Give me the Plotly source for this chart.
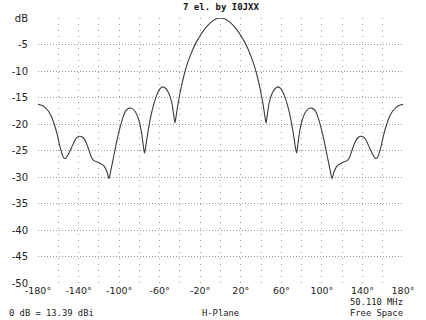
import plotly.graph_objects as go

angles = [-180, -176, -173, -170, -167, -164, -161, -158, -155, -153, -150, -147, -144, -142, -139,
          -136, -133, -130, -127, -124, -121, -118, -115, -112, -110, -108, -105, -102, -99, -96,
          -93, -90, -87, -84, -81, -78, -76, -75, -74, -72, -69, -66, -63, -60, -57, -54, -51, -48,
          -46, -45, -44, -42, -39, -36, -33, -30, -27, -24, -20, -16, -12, -8, -4,
          0,
          4, 8, 12, 16, 20, 24, 27, 30, 33, 36, 39, 42, 44, 45, 46, 48, 51, 54, 57, 60, 63, 66,
          69, 72, 74, 75, 76, 78, 81, 84, 87, 90, 93, 96, 99, 102, 105, 108, 110, 112, 115, 118,
          121, 124, 127, 130, 133, 136, 139, 142, 144, 147, 150, 153, 155, 158, 161, 164, 167,
          170, 173, 176, 180]
gain_db = [-16.3, -16.5, -16.9, -17.5, -18.5, -20.0, -22.0, -24.5, -26.3, -26.5, -25.7, -24.5,
           -23.2, -22.6, -22.3, -22.5, -23.3, -24.8, -26.4, -27.0, -27.2, -27.5, -27.9, -29.0,
           -30.3, -28.6, -25.8, -23.0, -20.6, -18.6, -17.4, -17.0, -17.1, -17.7, -19.0, -21.5,
           -24.3, -25.5, -24.6, -22.0, -18.8, -16.4, -14.6, -13.4, -13.0, -13.3, -14.2, -16.0,
           -18.5, -19.8, -18.8, -16.3, -13.3, -10.8, -8.8, -7.2, -5.8, -4.6, -3.3, -2.2, -1.3,
           -0.6, -0.15,
           0.0,
           -0.15, -0.6, -1.3, -2.2, -3.3, -4.6, -5.8, -7.2, -8.8, -10.8, -13.3, -16.3, -18.8,
           -19.8, -18.5, -16.0, -14.2, -13.3, -13.0, -13.4, -14.6, -16.4, -18.8, -22.0, -24.6,
           -25.5, -24.3, -21.5, -19.0, -17.7, -17.1, -17.0, -17.4, -18.6, -20.6, -23.0, -25.8,
           -28.6, -30.3, -29.0, -27.9, -27.5, -27.2, -27.0, -26.4, -24.8, -23.3, -22.5, -22.3,
           -22.6, -23.2, -24.5, -25.7, -26.5, -26.3, -24.5, -22.0, -20.0, -18.5, -17.5, -16.9,
           -16.5, -16.3]

x_grid = list(range(-180, 181, 20))
x_labels = [f"{v}°" if (v + 180) % 40 == 0 else "" for v in x_grid]
y_ticks = list(range(0, -51, -5))
y_labels = ["dB"] + [str(v) for v in y_ticks[1:]]

title_text = "7 el. by I0JXX"
ref_text = "0 dB = 13.39 dBi"
plane_text = "H-Plane"
freq_text = "50.110 MHz"
env_text = "Free Space"

fig = go.Figure()
fig.add_trace(go.Scatter(x=angles, y=gain_db, mode="lines",
                         line=dict(color="#3a3a3a", width=1.1, shape="spline", smoothing=0.6),
                         hoverinfo="skip", showlegend=False))

L, R, T, B = 34, 14, 16, 37
W, H = 426, 320
pw, ph = W - L - R, H - T - B

def px(X):
    return (X - L) / pw

def py(Y):
    return (H - B - Y) / ph

xtick_font = dict(family="DejaVu Sans, sans-serif", size=9.5, color="#222")
ytick_font = dict(family="DejaVu Sans, sans-serif", size=10, color="#222")
mono_font = dict(family="DejaVu Sans Mono, monospace", size=8.8, color="#222")

fig.update_layout(
    width=W, height=H, autosize=False,
    margin=dict(l=L, r=R, t=T, b=B),
    paper_bgcolor="white", plot_bgcolor="white",
    xaxis=dict(range=[-180, 180], tickvals=x_grid, ticktext=x_labels, showgrid=True,
               gridcolor="#9a9a9a", griddash="1px,5px", gridwidth=1, zeroline=False,
               showline=False, ticks="", tickfont=xtick_font, ticklabelstandoff=0,
               fixedrange=True),
    yaxis=dict(range=[-50, 0], tickvals=y_ticks, ticktext=y_labels, showgrid=True,
               gridcolor="#9a9a9a", griddash="1px,2px", gridwidth=1, zeroline=False,
               showline=False, ticks="", tickfont=ytick_font, ticklabelstandoff=9,
               fixedrange=True),
    annotations=[
        dict(text=f"<b>{title_text}</b>", x=px(224), y=py(5), xref="paper", yref="paper",
             showarrow=False, xanchor="center", yanchor="middle",
             font=dict(family="DejaVu Sans Mono, monospace", size=9, color="#111")),
        dict(text=ref_text, x=px(2), y=py(313.5), xref="paper", yref="paper",
             showarrow=False, xanchor="left", yanchor="middle", font=mono_font),
        dict(text=plane_text, x=px(223), y=py(313.5), xref="paper", yref="paper",
             showarrow=False, xanchor="center", yanchor="middle", font=mono_font),
        dict(text=freq_text, x=px(414), y=py(302.5), xref="paper", yref="paper",
             showarrow=False, xanchor="right", yanchor="middle", font=mono_font),
        dict(text=env_text, x=px(414), y=py(313.5), xref="paper", yref="paper",
             showarrow=False, xanchor="right", yanchor="middle", font=mono_font),
    ],
)

fig.write_html("out.html")
